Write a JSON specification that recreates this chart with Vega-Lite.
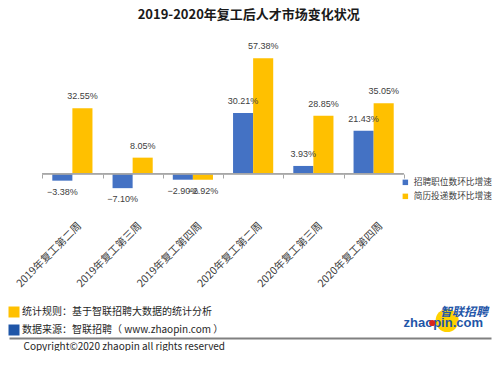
{
  "$schema": "https://vega.github.io/schema/vega-lite/v6.json",
  "background": "white",
  "padding": {"left": 5, "top": 9, "right": 4, "bottom": 0},
  "spacing": 17,
  "config": {"view": {"stroke": null}, "font": "Noto Sans CJK SC"},
  "title": {"text": "2019-2020年复工后人才市场变化状况", "anchor": "middle", "font": "Noto Sans CJK SC", "fontSize": 13, "fontWeight": "bold", "color": "#1a1a1a", "offset": 20},
  "resolve": {"scale": {"x": "independent", "y": "independent", "color": "independent"}, "legend": {"color": "independent"}},
  "vconcat": [
    {
      "width": 482,
      "height": 145,
      "data": {"values": [
        {"cat": "2019年复工第二周", "s": "招聘职位数环比增速", "v": -0.0338},
        {"cat": "2019年复工第二周", "s": "简历投递数环比增速", "v": 0.3255},
        {"cat": "2019年复工第三周", "s": "招聘职位数环比增速", "v": -0.0710},
        {"cat": "2019年复工第三周", "s": "简历投递数环比增速", "v": 0.0805},
        {"cat": "2019年复工第四周", "s": "招聘职位数环比增速", "v": -0.0290},
        {"cat": "2019年复工第四周", "s": "简历投递数环比增速", "v": -0.0292},
        {"cat": "2020年复工第二周", "s": "招聘职位数环比增速", "v": 0.3021},
        {"cat": "2020年复工第二周", "s": "简历投递数环比增速", "v": 0.5738},
        {"cat": "2020年复工第三周", "s": "招聘职位数环比增速", "v": 0.0393},
        {"cat": "2020年复工第三周", "s": "简历投递数环比增速", "v": 0.2885},
        {"cat": "2020年复工第四周", "s": "招聘职位数环比增速", "v": 0.2143},
        {"cat": "2020年复工第四周", "s": "简历投递数环比增速", "v": 0.3505}
      ]},
      "encoding": {
        "x": {"field": "cat", "type": "nominal", "sort": null,
          "scale": {"paddingInner": 0, "paddingOuter": 1.155, "align": 0.276},
          "axis": {"orient": "bottom", "offset": -20, "title": null, "tickBand": "extent",
            "domain": false, "tickColor": "#a6a6a6", "tickSize": 4,
            "labelAngle": -45, "labelAlign": "right", "labelBaseline": "middle",
            "labelPadding": 46, "labelOffset": 7, "labelFontSize": 10.5, "labelColor": "#404040",
            "labelFont": "Noto Sans CJK SC", "grid": false}},
        "y": {"field": "v", "type": "quantitative",
          "scale": {"domain": [-0.10, 0.62], "nice": false},
          "axis": null}
      },
      "layer": [
        {
          "mark": {"type": "bar"},
          "encoding": {
            "xOffset": {"field": "s", "type": "nominal",
              "scale": {"domain": ["招聘职位数环比增速", "简历投递数环比增速"], "paddingOuter": 0.5, "paddingInner": 0}},
            "color": {"field": "s", "type": "nominal",
              "scale": {"domain": ["招聘职位数环比增速", "简历投递数环比增速"], "range": ["#4472C4", "#FFC000"]},
              "legend": {"title": null, "orient": "none", "legendX": 392, "legendY": 129,
                "symbolType": "square", "symbolSize": 30, "symbolStrokeWidth": 0,
                "labelFontSize": 8.7, "labelColor": "#404040", "labelFont": "Noto Sans CJK SC",
                "rowPadding": 4, "labelOffset": 4}}
          }
        },
        {
          "mark": {"type": "bar", "fill": null, "stroke": "#a6a6a6", "strokeWidth": 1},
          "encoding": {"y": {"datum": 0}, "y2": {"datum": 0}}
        },
        {
          "transform": [{"filter": "datum.v >= 0"}],
          "mark": {"type": "text", "dy": -12, "baseline": "middle", "fontSize": 9, "font": "Liberation Sans", "color": "#404040"},
          "encoding": {
            "xOffset": {"field": "s", "type": "nominal"},
            "text": {"field": "v", "type": "quantitative", "format": ".2%"}}
        },
        {
          "transform": [{"filter": "datum.v < 0"}],
          "mark": {"type": "text", "dy": 11, "baseline": "middle", "fontSize": 9, "font": "Liberation Sans", "color": "#404040"},
          "encoding": {
            "xOffset": {"field": "s", "type": "nominal"},
            "text": {"field": "v", "type": "quantitative", "format": ".2%"}}
        }
      ]
    },
    {
      "width": 482,
      "height": 18,
      "layer": [
        {
          "data": {"values": [
            {"line": "统计规则", "text": "统计规则：基于智联招聘大数据的统计分析"},
            {"line": "数据来源", "text": "数据来源：智联招聘（ www.zhaopin.com ）"}
          ]},
          "mark": {"type": "point", "shape": "square", "filled": true, "size": 121, "opacity": 1, "xOffset": 5},
          "encoding": {
            "x": {"datum": 0, "type": "quantitative", "scale": {"domain": [0, 1]},
              "axis": {"orient": "bottom", "offset": 8, "domainColor": "#808080", "domainWidth": 2,
                "ticks": false, "labels": false, "grid": false,
                "title": "Copyright©2020 zhaopin all rights reserved",
                "titleAnchor": "start", "titleAlign": "left", "titleX": 14, "titleY": 8,
                "titleBaseline": "middle", "titleFontSize": 10, "titleFontWeight": "normal",
                "titleColor": "#262626", "titleFont": "Noto Sans CJK SC"}},
            "y": {"field": "line", "type": "nominal",
              "scale": {"type": "point", "domain": ["统计规则", "数据来源"], "padding": 0}, "axis": null},
            "color": {"field": "line", "type": "nominal",
              "scale": {"domain": ["统计规则", "数据来源"], "range": ["#FFC000", "#1F56A8"]}, "legend": null}
          }
        },
        {
          "data": {"values": [
            {"line": "统计规则", "text": "统计规则：基于智联招聘大数据的统计分析"},
            {"line": "数据来源", "text": "数据来源：智联招聘（ www.zhaopin.com ）"}
          ]},
          "mark": {"type": "text", "align": "left", "baseline": "middle", "dx": 13, "fontSize": 10, "font": "Noto Sans CJK SC", "color": "#262626"},
          "encoding": {
            "x": {"datum": 0, "type": "quantitative"},
            "y": {"field": "line", "type": "nominal"},
            "text": {"field": "text"}
          }
        },
        {
          "data": {"values": [{"line": "数据来源", "part": "circle"}]},
          "mark": {"type": "point", "shape": "circle", "filled": true, "size": 530, "opacity": 1, "color": "#FFD200", "yOffset": -9.5},
          "encoding": {
            "x": {"datum": 0.909, "type": "quantitative"},
            "y": {"field": "line", "type": "nominal"}
          }
        },
        {
          "data": {"values": [{"line": "统计规则", "t": "智联招聘"}]},
          "mark": {"type": "text", "align": "right", "baseline": "middle", "dx": -3, "dy": 0, "fontSize": 12, "fontWeight": "bold", "fontStyle": "italic", "font": "Noto Sans CJK SC", "color": "#1F56A8"},
          "encoding": {
            "x": {"datum": 1, "type": "quantitative"},
            "y": {"field": "line", "type": "nominal"},
            "text": {"field": "t"}
          }
        },
        {
          "data": {"values": [{"line": "数据来源", "t": "zhaopin.com"}]},
          "mark": {"type": "text", "align": "right", "baseline": "middle", "dx": -8, "dy": -7.5, "fontSize": 13, "fontWeight": "bold", "font": "Liberation Sans", "color": "#1F56A8"},
          "encoding": {
            "x": {"datum": 1, "type": "quantitative"},
            "y": {"field": "line", "type": "nominal"},
            "text": {"field": "t"}
          }
        },
        {
          "data": {"values": [{"line": "数据来源", "part": "dot"}]},
          "mark": {"type": "point", "shape": "circle", "filled": true, "size": 38, "opacity": 1, "color": "#D7261E", "yOffset": -7},
          "encoding": {
            "x": {"datum": 0.878, "type": "quantitative"},
            "y": {"field": "line", "type": "nominal"}
          }
        }
      ]
    }
  ]
}
